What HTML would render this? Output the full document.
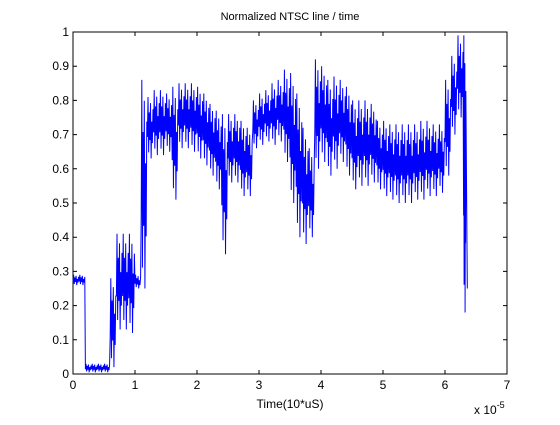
<!DOCTYPE html>
<html><head><meta charset="utf-8"><style>
body{margin:0;background:#fff}
svg text{font-family:"Liberation Sans",sans-serif;fill:#000}
</style></head><body>
<svg id="chart" width="560" height="420" viewBox="0 0 560 420" xmlns="http://www.w3.org/2000/svg">
<rect width="560" height="420" fill="#fff"/>
<text x="290" y="20" font-size="11" text-anchor="middle">Normalized NTSC line / time</text>
<g id="axes"></g>
<path id="series" fill="none" stroke="#0000ff" stroke-width="1"/>
<text x="290" y="408" font-size="12" text-anchor="middle">Time(10*uS)</text>
<text x="474" y="414" font-size="12">x 10<tspan dy="-6" font-size="9">-5</tspan></text>
</svg>
<script>
const binStart=[0.0,0.1,0.2,0.3,0.4,0.5,0.6,0.7,0.8,0.9,1.0,1.1,1.2,1.3,1.4,1.5,1.6,1.7,1.8,1.9,2.0,2.1,2.2,2.3,2.4,2.5,2.6,2.7,2.8,2.9,3.0,3.1,3.2,3.3,3.4,3.5,3.6,3.7,3.8,3.9,4.0,4.1,4.2,4.3,4.4,4.5,4.6,4.7,4.8,4.9,5.0,5.1,5.2,5.3,5.4,5.5,5.6,5.7,5.8,5.9,6.0,6.1,6.2,6.3];
const lowVals=[0.26,0.26,0.005,0.005,0.005,0.005,0.02,0.13,0.13,0.12,0.25,0.25,0.63,0.64,0.64,0.65,0.51,0.66,0.66,0.65,0.63,0.61,0.58,0.54,0.35,0.56,0.56,0.52,0.52,0.66,0.67,0.68,0.67,0.68,0.62,0.50,0.40,0.38,0.40,0.60,0.62,0.58,0.60,0.62,0.58,0.54,0.55,0.55,0.56,0.54,0.52,0.51,0.50,0.50,0.50,0.51,0.51,0.52,0.52,0.53,0.58,0.70,0.75,0.18];
const highVals=[0.29,0.29,0.03,0.03,0.03,0.03,0.28,0.41,0.41,0.41,0.29,0.86,0.81,0.83,0.83,0.82,0.84,0.85,0.85,0.85,0.84,0.82,0.79,0.77,0.76,0.76,0.76,0.74,0.72,0.80,0.82,0.83,0.85,0.86,0.89,0.88,0.82,0.72,0.66,0.92,0.90,0.86,0.87,0.86,0.84,0.80,0.80,0.80,0.79,0.74,0.74,0.73,0.73,0.73,0.73,0.73,0.74,0.74,0.73,0.73,0.86,0.93,0.99,0.99];
const endTime=6.36, endValue=0.25;
const xTicks=[0,1,2,3,4,5,6,7];
const yTicks=[0,0.1,0.2,0.3,0.4,0.5,0.6,0.7,0.8,0.9,1];
const yTickLabels=["0","0.1","0.2","0.3","0.4","0.5","0.6","0.7","0.8","0.9","1"];

const L=73,R=507,T=32,B=374;
const xs=v=>L+(v-0)/(7-0)*(R-L);
const ys=v=>B-(v-0)/(1-0)*(B-T);
const NS="http://www.w3.org/2000/svg";
const ax=document.getElementById('axes');
function mk(tag,attrs){const e=document.createElementNS(NS,tag);for(const k in attrs)e.setAttribute(k,attrs[k]);ax.appendChild(e);return e;}
const box=mk('rect',{x:L,y:T,width:R-L,height:B-T,fill:'none',stroke:'#000','stroke-width':1});


xTicks.forEach(t=>{
  const x=xs(t);
  const tk=mk('path',{d:`M${x},${B}v-4M${x},${T}v4`,stroke:'#000','stroke-width':1});
  
  
  const lb=mk('text',{x:x,y:B+15,'font-size':12,'text-anchor':'middle'});
  lb.textContent=String(t);
  
  
});
yTicks.forEach((t,i)=>{
  const y=ys(t);
  const tk=mk('path',{d:`M${L},${y}h4M${R},${y}h-4`,stroke:'#000','stroke-width':1});
  
  
  const lb=mk('text',{x:L-4,y:y+4,'font-size':12,'text-anchor':'end'});
  lb.textContent=yTickLabels[i];
  
  
});
// rendering pattern for oscillation within each bin (fraction of lo..hi range)
const swing=[0.35,1,0.1,0.75,0.3,0.9,0,0.6,0.25,0.8];
let d='';
for(let i=0;i<binStart.length;i++){
  const x0=xs(binStart[i]);
  const x1=i+1<binStart.length?xs(binStart[i+1]):xs(endTime-0.02);
  const n=swing.length;
  const step=(x1-x0)/n;
  for(let k=0;k<n;k++){
    const v=lowVals[i]+swing[k]*(highVals[i]-lowVals[i]);
    d+=(d?'L':'M')+(x0+k*step).toFixed(2)+','+ys(v).toFixed(2);
  }
}
d+='L'+xs(endTime).toFixed(2)+','+ys(endValue).toFixed(2);
document.getElementById('series').setAttribute('d',d);
</script>
</body></html>
